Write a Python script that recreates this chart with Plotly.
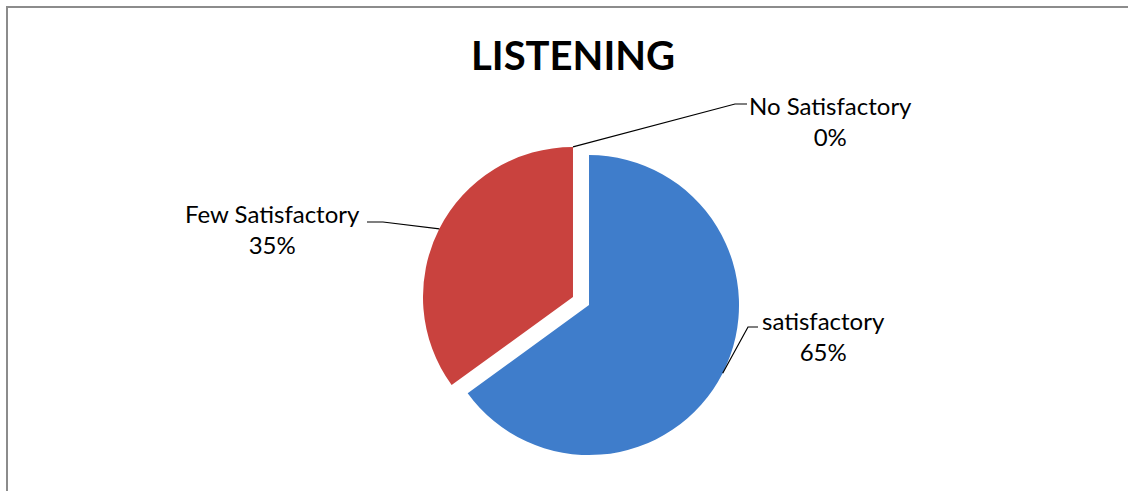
import math
import plotly.graph_objects as go

# ---- data ----
categories = ["satisfactory", "Few Satisfactory", "No Satisfactory"]
values = [65, 35, 0]
pct_labels = ["65%", "35%", "0%"]
colors = ["#3f7dcb", "#c9423e", "#9bbb59"]
title_text = "LISTENING"

W, H = 1128, 491
CX, CY, R = 581.0, 301.0, 150.0   # pie centre / radius in px
PULL = 0.06

half = R * (1 + PULL)
dom_x = [(CX - half) / W, (CX + half) / W]
dom_y = [(H - CY - half) / H, (H - CY + half) / H]

fig = go.Figure()
fig.add_trace(go.Pie(
    labels=categories, values=values, sort=False, direction="clockwise",
    rotation=0, pull=[PULL] * len(values), textinfo="none",
    marker=dict(colors=colors, line=dict(width=0)),
    domain=dict(x=dom_x, y=dom_y), showlegend=False, hoverinfo="label+percent",
))

def px(x, y):
    return x / W, 1 - y / H

# leader-line start points from slice geometry
total = sum(values)
cum = 0
starts = []
prev_off = (0.0, 0.0)
for v in values:
    a0 = cum / total * 360
    cum += v
    a1 = cum / total * 360
    mid = math.radians((a0 + a1) / 2)
    if v > 0:
        off = (PULL * R * math.sin(mid), -PULL * R * math.cos(mid))
        prev_off = off
    else:
        off = prev_off
    sx = CX + off[0] + R * math.sin(mid)
    sy = CY + off[1] - R * math.cos(mid)
    starts.append((sx, sy))

# label layout (elbow, end, label centre) in px
label_layout = [
    ((748, 327), (758, 327), (823, 336)),
    ((383, 222), (367, 222), (272, 229)),
    ((735, 104), (747, 104), (830, 121)),
]

shapes = []
annotations = []
for i, (elbow, end, lab) in enumerate(label_layout):
    s = starts[i]
    p0, p1, p2 = px(*s), px(*elbow), px(*end)
    shapes.append(dict(
        type="path", xref="paper", yref="paper",
        path=f"M {p0[0]},{p0[1]} L {p1[0]},{p1[1]} L {p2[0]},{p2[1]}",
        line=dict(color="black", width=1.2),
    ))
    lx, ly = px(*lab)
    annotations.append(dict(
        x=lx, y=ly, xref="paper", yref="paper", showarrow=False,
        text=f"{categories[i]}<br>{pct_labels[i]}", align="center",
        xanchor="center", yanchor="middle",
        font=dict(family="Lato", size=24, color="black"),
    ))

tx, ty = px(573, 55)
annotations.append(dict(
    x=tx, y=ty, xref="paper", yref="paper", showarrow=False,
    text=f"<b>{title_text}</b>", xanchor="center", yanchor="middle",
    font=dict(family="Lato", size=40, color="black"),
))

# chart border (box running past right and bottom edges)
bx0, by0 = px(7, 7)
shapes.append(dict(type="rect", xref="paper", yref="paper",
                   x0=bx0, y0=-0.1, x1=1.1, y1=by0,
                   line=dict(color="#8c8c8c", width=2), layer="below"))

fig.update_layout(
    width=W, height=H, margin=dict(l=0, r=0, t=0, b=0),
    paper_bgcolor="white", plot_bgcolor="white",
    shapes=shapes, annotations=annotations, showlegend=False,
)
fig.write_html("out.html", config={"displayModeBar": False})
